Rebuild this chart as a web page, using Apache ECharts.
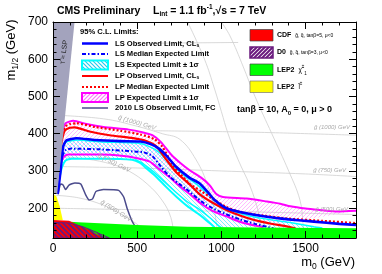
<!DOCTYPE html>
<html><head><meta charset="utf-8">
<script src="https://cdn.jsdelivr.net/npm/echarts@6/dist/echarts.min.js"></script>
<style>html,body{margin:0;padding:0;background:#fff}#c{width:382px;height:274px}</style>
</head><body><div id="c"></div>
<script>
// ---------- axes ----------
const m0Range = [0, 1800];
const m12Range = [120, 700];
const m0MajorTicks = [0, 500, 1000, 1500];
const m0MinorTicks = [100,200,300,400,600,700,800,900,1100,1200,1300,1400,1600,1700];
const m12MajorTicks = [200, 300, 400, 500, 600, 700];
const m12MinorTicks = [140,160,180,220,240,260,280,320,340,360,380,420,440,460,480,520,540,560,580,620,640,660,680];

// ---------- limit curves [m0, m1/2] ----------
const lsObserved = [[28,238],[45,300],[60,365],[80,382],[140,388],[250,383],[400,380],[520,379],[580,372],[630,360],[680,338],[730,312],[810,282],[870,267],[920,243],[960,222],[1030,200],[1110,190],[1270,177],[1400,170],[1550,164],[1700,158],[1800,155]];
const lsMedian = [[55,340],[75,356],[110,360],[280,358],[470,353],[540,350],[590,340],[640,312],[700,282],[790,252],[860,226],[910,209],[990,191],[1110,170],[1200,158],[1270,150],[1310,146]];
const lsBandUp = [[40,300],[55,362],[80,378],[140,383],[300,378],[500,375],[570,366],[630,350],[700,318],[780,288],[860,262],[930,235],[1000,208],[1100,188],[1250,172],[1400,162],[1550,150],[1600,147]];
const lsBandLo = [[40,285],[55,312],[75,328],[110,333],[300,333],[470,330],[515,322],[560,305],[614,284],[670,258],[733,231],[800,205],[872,182],[930,160],[960,148]];
const lsBandLo2 = [[490,330],[540,318],[600,297],[660,272],[720,247],[790,220],[870,197],[930,175],[980,155],[1000,148]];
const lpObserved = [[40,340],[52,380],[70,408],[100,416],[130,417],[217,406],[336,396],[475,388],[550,381],[614,366],[674,330],[733,296],[812,264],[872,237],[951,214],[1071,187],[1190,169],[1289,159],[1380,152],[1440,146]];
const lpMedian = [[45,380],[55,402],[75,420],[100,426],[140,428],[250,418],[400,408],[520,398],[600,386],[650,365],[711,316],[760,290],[812,265],[880,246],[950,225],[1030,203],[1110,190],[1250,180],[1400,172],[1600,166],[1800,160]];
const lpBandUp = [[42,370],[55,405],[75,428],[120,435],[200,426],[300,418],[450,411],[530,404],[590,396],[640,378],[700,345],[760,320],[812,302],[880,282],[930,262],[970,238],[1010,230],[1150,226],[1270,218],[1350,212],[1410,205],[1500,199],[1590,195],[1690,191],[1800,193]];
const lpBandLo = [[50,325],[65,338],[90,344],[280,344],[420,340],[500,334],[575,325],[630,305],[693,283],[750,260],[812,238],[880,212],[950,192],[1030,178],[1100,165],[1170,156],[1250,149]];
const ls2010 = [[30,238],[45,265],[60,262],[75,250],[95,262],[130,268],[165,265],[195,235],[215,222],[235,225],[255,245],[300,250],[390,248],[420,230],[440,200],[470,165],[490,150]];

// ---------- excluded regions ----------
const stauLSP = [[0,700],[128,700],[25,238],[0,238]];
const lep2Slepton = [[0,238],[20,232],[40,205],[58,168],[0,168]];
const lep2Chargino = [[0,166],[150,162],[500,155],[800,150],[1200,148],[1800,146],[1800,120],[0,120]];
const cdfRegion = [[0,168],[95,166],[150,155],[220,140],[300,120],[0,120]];
const d0Region = [[0,162],[100,160],[180,150],[260,135],[335,120],[0,120]];

// ---------- iso-mass contours ----------
const gluino500 = [[0,200],[600,195],[1200,190],[1800,183]];
const gluino750 = [[0,312],[500,308],[1000,300],[1500,292],[1800,285]];
const gluino1000 = [[600,408],[1200,404],[1800,396]];
const gluinoTop = [[575,643],[1100,645]];
const squark500 = [[0,235],[150,228],[300,208],[420,180],[520,150],[590,120]];
const squark750 = [[0,340],[200,332],[350,318],[450,300],[560,265],[650,220],[700,175],[720,120]];
const squark1000 = [[0,450],[300,440],[500,420],[650,400],[753,385],[850,330],[920,260],[960,190],[980,120]];
const squark1250 = [[800,700],[900,600],[960,520],[1000,460],[1040,400],[1100,330],[1170,260],[1220,190],[1250,120]];
const squark1500 = [[1000,700],[1051,663],[1130,580],[1200,500],[1300,400],[1400,300],[1467,222],[1485,160],[1490,120]];

// ---------- helpers ----------
function hatch(color, dir, size, lw, bg) {
  const c = document.createElement('canvas'); c.width = c.height = size;
  const g = c.getContext('2d');
  if (bg) { g.fillStyle = bg; g.fillRect(0,0,size,size); }
  g.strokeStyle = color; g.lineWidth = lw; g.beginPath();
  if (dir > 0) { g.moveTo(0,size); g.lineTo(size,0); g.moveTo(-size,size); g.lineTo(size,-size); g.moveTo(0,2*size); g.lineTo(2*size,0); }
  else { g.moveTo(0,0); g.lineTo(size,size); g.moveTo(-size,0); g.lineTo(size,2*size); g.moveTo(0,-size); g.lineTo(2*size,size); }
  g.stroke();
  return { image: c, repeat: 'repeat' };
}
const pinkHatch = hatch('rgba(255,120,255,0.5)', 1, 4, 1);
const cyanHatch = hatch('rgba(0,220,255,0.5)', -1, 4, 1);
const d0Hatch = hatch('#6a1a7e', -1, 5, 1.8);
const pinkHatchBox = hatch('#ff77ff', 1, 4, 1.2, '#fff');
const cyanHatchBox = hatch('#22ccee', -1, 4, 1.2, '#fff');
const d0HatchBox = hatch('#6a1a7e', 1, 4, 2, '#fff');

function poly(pts, fill, stroke, lw, z) {
  return { type:'custom', coordinateSystem:'cartesian2d', data:[pts[0]], clip:true, silent:true, z:z, animation:false,
    renderItem:(p, api) => ({ type:'polygon', shape:{ points: pts.map(q => api.coord(q)) },
      style:{ fill: fill, stroke: stroke || null, lineWidth: lw || 0 } }) };
}
function band(up, lo) { return up.concat(lo.slice().reverse()); }
function line(data, color, width, type, z, smooth) {
  return { type:'line', data:data, symbol:'none', showSymbol:false, smooth: smooth === undefined ? 0.2 : smooth,
    lineStyle:{ color:color, width:width, type:type || 'solid' }, z:z, silent:true, animation:false, clip:true };
}

const FF = 'Liberation Sans, Arial, Helvetica, sans-serif';
const gray = '#cfcfcf';
const plain = v => String(v);

const chart = echarts.init(document.getElementById('c'), null, { renderer:'canvas' });

function xAx(pos, ticks, len, showLine, labels) {
  return { type:'value', position:pos, min:m0Range[0], max:m0Range[1], z:10,
    axisLine:{ show:showLine, onZero:false, lineStyle:{ color:'#000', width:1 } },
    axisTick:{ show:true, inside:true, length:len, customValues:ticks, lineStyle:{ color:'#000', width:1 } },
    axisLabel:{ show:!!labels, customValues:labels || [], formatter:plain, color:'#000', fontSize:12, fontFamily:FF, margin:5 },
    splitLine:{ show:false } };
}
function yAx(pos, ticks, len, showLine, labels) {
  return { type:'value', position:pos, min:m12Range[0], max:m12Range[1], z:10,
    axisLine:{ show:showLine, onZero:false, lineStyle:{ color:'#000', width:1 } },
    axisTick:{ show:true, inside:true, length:len, customValues:ticks, lineStyle:{ color:'#000', width:1 } },
    axisLabel:{ show:!!labels, customValues:labels || [], formatter:plain, color:'#000', fontSize:12, fontFamily:FF, margin:5 },
    splitLine:{ show:false } };
}

// legend helpers (pixel layout)
const legX1 = 82, legX2 = 108, legTX = 115;
const legRows = [43.5, 54, 65, 76, 87, 97.5, 108];
function ltext(y, t, sub) {
  return { type:'text', x:legTX, y:y, z:30, style:{ text: sub ? '{a|' + t + '}{s|' + sub + '}' : '{a|' + t + '}',
    rich:{ a:{ fontSize:7.6, fontWeight:'bold', fontFamily:FF, fill:'#000', lineHeight:9 },
           s:{ fontSize:5, fontWeight:'bold', fontFamily:FF, fill:'#000', verticalAlign:'bottom', lineHeight:9 } },
    verticalAlign:'middle', align:'left' } };
}
function lline(y, color, w, dash) {
  return { type:'line', z:30, shape:{ x1:legX1, y1:y, x2:legX2, y2:y }, style:{ stroke:color, lineWidth:w, lineDash:dash || null } };
}

const graphic = [
  // title
  { type:'text', x:57, y:11, z:30, style:{ text:'CMS Preliminary', fontSize:10.5, fontWeight:'bold', fontFamily:FF, fill:'#000', verticalAlign:'middle' } },
  { type:'text', x:153, y:11, z:30, style:{ text:'{a|L}{b|int}{a| = 1.1 fb}{c|-1}{a|,√s = 7 TeV}',
      rich:{ a:{ fontSize:10.5, fontWeight:'bold', fontFamily:FF, fill:'#000', lineHeight:14 },
             b:{ fontSize:6.5, fontWeight:'bold', fontFamily:FF, fill:'#000', verticalAlign:'bottom', lineHeight:14 },
             c:{ fontSize:6.5, fontWeight:'bold', fontFamily:FF, fill:'#000', verticalAlign:'top', lineHeight:14 } },
      verticalAlign:'middle' } },
  // axis names
  { type:'text', x:11, y:50, rotation:Math.PI/2, z:30, style:{ text:'{a|m}{s|1/2}{a| (GeV)}',
      rich:{ a:{ fontSize:13, fontFamily:FF, fill:'#000', lineHeight:18 }, s:{ fontSize:8.5, fontFamily:FF, fill:'#000', verticalAlign:'bottom', lineHeight:16 } },
      align:'center', verticalAlign:'middle' } },
  { type:'text', x:355, y:262, z:30, style:{ text:'{a|m}{s|0}{a| (GeV)}',
      rich:{ a:{ fontSize:13, fontFamily:FF, fill:'#000', lineHeight:18 }, s:{ fontSize:8.5, fontFamily:FF, fill:'#000', verticalAlign:'bottom', lineHeight:16 } },
      align:'right', verticalAlign:'middle' } },
  // stau label
  { type:'text', x:64, y:52, rotation:82*Math.PI/180, z:30, style:{ text:'τ̃ = LSP', fontSize:7, fontFamily:FF, fill:'#222', align:'center', verticalAlign:'middle' } },
  // contour labels
  { type:'text', x:350, y:127, z:5, style:{ text:'g̃ (1000) GeV', fontSize:6, fontStyle:'italic', fontFamily:FF, fill:'#aaa', align:'right', verticalAlign:'middle' } },
  { type:'text', x:346, y:170, z:5, style:{ text:'g̃ (750) GeV', fontSize:6, fontStyle:'italic', fontFamily:FF, fill:'#aaa', align:'right', verticalAlign:'middle' } },
  { type:'text', x:348, y:209, z:5, style:{ text:'g̃ (500) GeV', fontSize:6, fontStyle:'italic', fontFamily:FF, fill:'#aaa', align:'right', verticalAlign:'middle' } },
  { type:'text', x:116, y:211, rotation:-32*Math.PI/180, z:5, style:{ text:'q̃ (500) GeV', fontSize:6.5, fontStyle:'italic', fontFamily:FF, fill:'#aaa', align:'center', verticalAlign:'middle' } },
  { type:'text', x:114, y:163, rotation:-26*Math.PI/180, z:5, style:{ text:'q̃ (750) GeV', fontSize:6.5, fontStyle:'italic', fontFamily:FF, fill:'#aaa', align:'center', verticalAlign:'middle' } },
  { type:'text', x:137, y:123, rotation:-16*Math.PI/180, z:5, style:{ text:'q̃ (1000) GeV', fontSize:6.5, fontStyle:'italic', fontFamily:FF, fill:'#aaa', align:'center', verticalAlign:'middle' } },
  // left legend
  { type:'text', x:80, y:32, z:30, style:{ text:'95% C.L. Limits:', fontSize:7.6, fontWeight:'bold', fontFamily:FF, fill:'#000', verticalAlign:'middle' } },
  lline(legRows[0], '#0000ff', 2.5),
  ltext(legRows[0], 'LS Observed Limit, CL', 's'),
  lline(legRows[1], '#0000ff', 2, [4,2,1.5,2]),
  ltext(legRows[1], 'LS Median Expected Limit'),
  { type:'rect', z:30, shape:{ x:legX1, y:legRows[2]-4.5, width:legX2-legX1, height:9 }, style:{ fill:cyanHatchBox, stroke:'#00ffff', lineWidth:2 } },
  ltext(legRows[2], 'LS Expected Limit ± 1σ'),
  lline(legRows[3], '#ff0000', 2),
  ltext(legRows[3], 'LP Observed Limit, CL', 's'),
  lline(legRows[4], '#ff0000', 2, [2,2]),
  ltext(legRows[4], 'LP Median Expected Limit'),
  { type:'rect', z:30, shape:{ x:legX1, y:legRows[5]-4.5, width:legX2-legX1, height:9 }, style:{ fill:pinkHatchBox, stroke:'#ff00ff', lineWidth:2 } },
  ltext(legRows[5], 'LP Expected Limit ± 1σ'),
  lline(legRows[6], '#4b4b8c', 1.5),
  ltext(legRows[6], '2010 LS Observed Limit, FC'),
  // right legend
  { type:'rect', z:30, shape:{ x:250, y:29.5, width:23, height:11.5 }, style:{ fill:'#ff0000', stroke:'#444', lineWidth:0.7 } },
  { type:'rect', z:30, shape:{ x:250, y:47, width:23, height:11 }, style:{ fill:d0HatchBox, stroke:'#6a1a7e', lineWidth:1.5 } },
  { type:'rect', z:30, shape:{ x:250, y:64, width:23, height:11.5 }, style:{ fill:'#00ff00', stroke:'#444', lineWidth:0.7 } },
  { type:'rect', z:30, shape:{ x:250, y:81, width:23, height:11.5 }, style:{ fill:'#ffff00', stroke:'#777', lineWidth:0.7 } },
  { type:'text', x:277, y:35.5, z:30, style:{ text:'{a|CDF  }{b|g̃, q̃, tanβ=5, μ<0}', rich:{ a:{ fontSize:7, fontWeight:'bold', fontFamily:FF, fill:'#000' }, b:{ fontSize:5, fontFamily:FF, fill:'#000' } }, verticalAlign:'middle' } },
  { type:'text', x:277, y:52.5, z:30, style:{ text:'{a|D0  }{b|g̃, q̃, tanβ=3, μ<0}', rich:{ a:{ fontSize:7, fontWeight:'bold', fontFamily:FF, fill:'#000' }, b:{ fontSize:5, fontFamily:FF, fill:'#000' } }, verticalAlign:'middle' } },
  { type:'text', x:277, y:70, z:30, style:{ text:'{a|LEP2  }{b|χ̃}{c|±}{d|1}', rich:{ a:{ fontSize:7, fontWeight:'bold', fontFamily:FF, fill:'#000', lineHeight:12 }, b:{ fontSize:6.5, fontFamily:FF, fill:'#000', lineHeight:12 }, c:{ fontSize:4.5, fontFamily:FF, fill:'#000', verticalAlign:'top', lineHeight:12 }, d:{ fontSize:4.5, fontFamily:FF, fill:'#000', verticalAlign:'bottom', lineHeight:12 } }, verticalAlign:'middle' } },
  { type:'text', x:277, y:87, z:30, style:{ text:'{a|LEP2  }{b|l̃}{c|±}', rich:{ a:{ fontSize:7, fontWeight:'bold', fontFamily:FF, fill:'#000', lineHeight:12 }, b:{ fontSize:6.5, fontFamily:FF, fill:'#000', lineHeight:12 }, c:{ fontSize:4.5, fontFamily:FF, fill:'#000', verticalAlign:'top', lineHeight:12 } }, verticalAlign:'middle' } },
  { type:'text', x:237, y:110, z:30, style:{ text:'{a|tanβ = 10, A}{s|0}{a| = 0, μ > 0}', rich:{ a:{ fontSize:9, fontWeight:'bold', fontFamily:FF, fill:'#000', lineHeight:13 }, s:{ fontSize:6, fontWeight:'bold', fontFamily:FF, fill:'#000', verticalAlign:'bottom', lineHeight:13 } }, verticalAlign:'middle' } }
];

const series = [
  // iso-mass contours
  line(gluino500, gray, 0.8, 'solid', 1, 0.3), line(gluino750, gray, 0.8, 'solid', 1, 0.3), line(gluino1000, gray, 0.8, 'solid', 1, 0.3), line(gluinoTop, gray, 0.8, 'solid', 1, 0),
  line(squark500, gray, 0.8, 'solid', 1, 0.4), line(squark750, gray, 0.8, 'solid', 1, 0.4), line(squark1000, gray, 0.8, 'solid', 1, 0.4),
  line(squark1250, gray, 0.8, 'solid', 1, 0.4), line(squark1500, gray, 0.8, 'solid', 1, 0.4),
  // bands
  poly(band(lsBandUp, lsBandLo), cyanHatch, null, 0, 2),
  poly(band(lpBandUp, lpBandLo), pinkHatch, null, 0, 2),
  line(lsBandUp, '#00ffff', 1.5, 'solid', 3),
  line(lsBandLo, '#00ffff', 2, 'solid', 3),
  line(lsBandLo2, '#00ffff', 1.5, 'solid', 3),
  line(lpBandUp, '#ff00ff', 2, 'solid', 4),
  line(lpBandLo, '#ff00ff', 2, 'solid', 4),
  line(ls2010, '#4b4b8c', 1.5, 'solid', 4, 0.15),
  line(lpMedian, '#ff0000', 2.2, [2,2], 5),
  line(lpObserved, '#ff0000', 2.2, 'solid', 5),
  line(lsMedian, '#0000ff', 2, [4,2,1.5,2], 6),
  line(lsObserved, '#0000ff', 2.6, 'solid', 6),
  // excluded regions
  poly(lep2Chargino, '#00ff00', null, 0, 7),
  poly(lep2Slepton, '#ffff00', null, 0, 7),
  poly(cdfRegion, '#ff0000', null, 0, 8),
  poly(d0Region, d0Hatch, '#6a1a7e', 1, 9),
  poly(stauLSP, '#a3a3bd', null, 0, 9)
];

chart.setOption({
  animation:false,
  backgroundColor:'#fff',
  grid:{ left:53, right:26, top:22, bottom:36, containLabel:false },
  xAxis:[ xAx('bottom', m0MajorTicks, 7, true, m0MajorTicks), xAx('bottom', m0MinorTicks, 3.5, false),
          xAx('top', m0MajorTicks, 7, true), xAx('top', m0MinorTicks, 3.5, false) ],
  yAxis:[ yAx('left', m12MajorTicks, 7, true, m12MajorTicks), yAx('left', m12MinorTicks, 3.5, false),
          yAx('right', m12MajorTicks, 7, true), yAx('right', m12MinorTicks, 3.5, false) ],
  series:series,
  graphic:graphic
});
</script></body></html>
